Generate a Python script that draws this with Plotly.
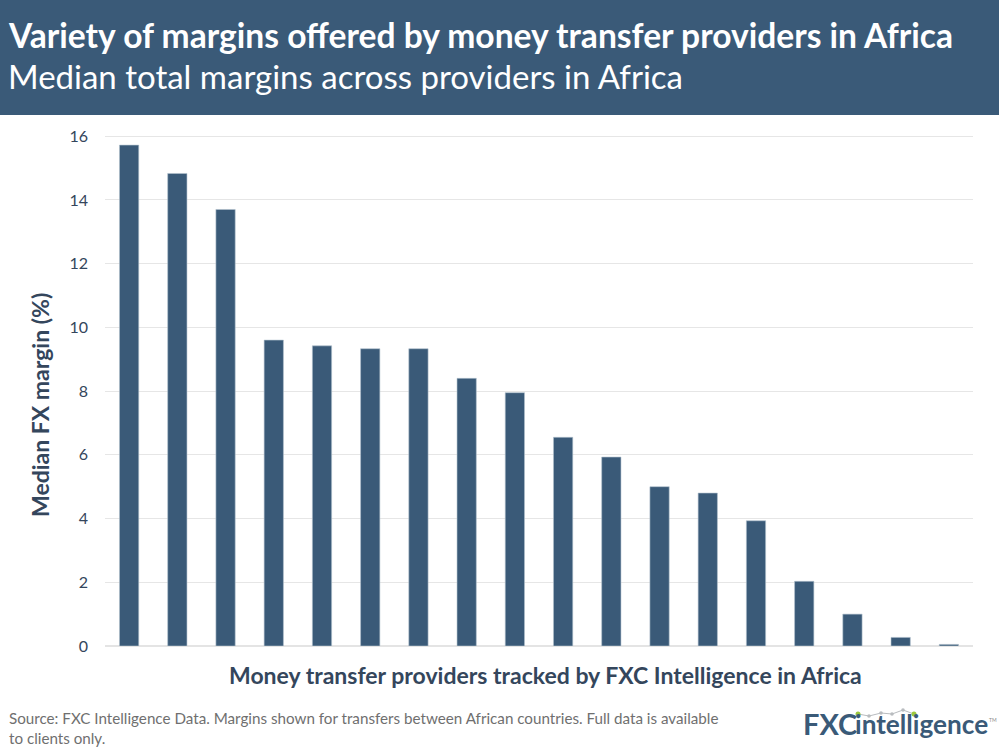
import plotly.graph_objects as go

# values
providers = [f"Provider {i}" for i in range(1, 19)]
margins = [15.72, 14.83, 13.7, 9.6, 9.42, 9.33, 9.33, 8.4, 7.95, 6.55, 5.93, 5.0, 4.8, 3.93, 2.03, 1.0, 0.27, 0.05]
y_ticks = [0, 2, 4, 6, 8, 10, 12, 14, 16]

title = "<b>Variety of margins offered by money transfer providers in Africa</b>"
subtitle = "Median total margins across providers in Africa"
x_title = "<b>Money transfer providers tracked by FXC Intelligence in Africa</b>"
y_title = "<b>Median FX margin (%)</b>"
source = "Source: FXC Intelligence Data. Margins shown for transfers between African countries. Full data is available<br>to clients only."

# logo swoosh, page pixels
logo_x = [858, 869, 881, 892, 903, 914]
logo_y = [714, 716, 713, 714, 710, 714]

W, H = 999, 749
L, R, T, B = 105, 26, 133, 103
NAVY = "#3a5a78"
TEXT = "#34465c"
GREEN = "#9cc83c"
GREY = "#b9bcbf"


def py(y):
    # pixel from top of page -> plot paper fraction
    return (H - B - y) / (H - T - B)


def px_plot(x):
    return (x - L) / (W - L - R)


fig = go.Figure()

# Add bars
fig.add_trace(go.Bar(
    x=providers, y=margins, width=0.4,
    marker=dict(color=NAVY, line=dict(color="#b4c2cf", width=0.6)),
))

# Banner
fig.add_shape(type="rect", xref="paper", yref="paper", layer="below",
              x0=px_plot(0), x1=px_plot(W), y0=py(115), y1=py(0),
              fillcolor=NAVY, line_width=0)


def label(text, x, y, size, color, xanchor="left", yanchor="middle", **kw):
    fig.add_annotation(text=text, xref="paper", yref="paper", x=px_plot(x), y=py(y),
                       showarrow=False, xanchor=xanchor, yanchor=yanchor,
                       font=dict(family="Lato", size=size, color=color), **kw)


label(title, 6, 35, 33.6, "white")
label(subtitle, 6, 76, 33, "white")
label(x_title, 545, 675, 23, TEXT, xanchor="center")
label(y_title, 40, 405, 23, TEXT, xanchor="center", textangle=-90)
label(source, 7, 728, 15.2, "#6f6f6f", align="left")

# Logo
label("<b>FXC</b>", 801, 723, 29, NAVY)
label("<b>intelligence</b>", 853, 724, 26.2, NAVY)
label("TM", 987, 720, 5, "#8a8a8a")
for i in range(len(logo_x) - 1):
    fig.add_shape(type="line", xref="paper", yref="paper",
                  x0=px_plot(logo_x[i]), x1=px_plot(logo_x[i + 1]),
                  y0=py(logo_y[i]), y1=py(logo_y[i + 1]),
                  line=dict(color=GREY, width=1))
for i in range(len(logo_x)):
    r = 2.5 if i in (0, len(logo_x) - 1) else 1.8
    fig.add_shape(type="circle", xref="paper", yref="paper",
                  x0=px_plot(logo_x[i] - r), x1=px_plot(logo_x[i] + r),
                  y0=py(logo_y[i] + r), y1=py(logo_y[i] - r),
                  fillcolor=GREEN if i in (0, len(logo_x) - 1) else GREY, line_width=0)

fig.update_layout(
    width=W, height=H,
    margin=dict(l=L, r=R, t=T, b=B, pad=0),
    plot_bgcolor="white", paper_bgcolor="white",
    showlegend=False,
    xaxis=dict(showticklabels=False, ticks="", showgrid=False, zeroline=False,
               showline=False, range=[-0.5, 17.5]),
    yaxis=dict(range=[0, 16.1], tickvals=y_ticks, ticks="", showline=False, zeroline=True,
               zerolinecolor="#e4e4e4", zerolinewidth=1.5, gridcolor="#e6e6e6", gridwidth=1,
               tickfont=dict(family="Lato", size=16, color=TEXT), ticklabelstandoff=16),
)

fig.write_html("out.html", config=dict(displayModeBar=False),
               post_script="document.body.style.margin='0';document.body.style.overflow='hidden';")
